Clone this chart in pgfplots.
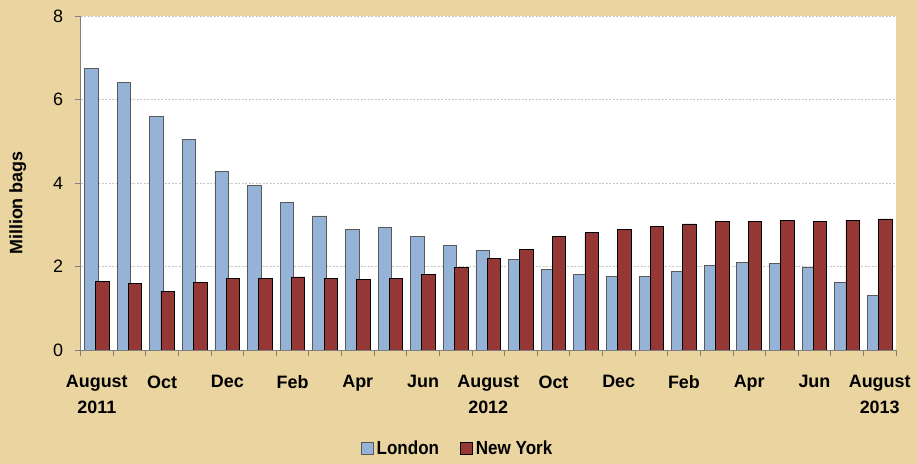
\documentclass[border=0pt]{standalone}
\usepackage{fontspec}
\setmainfont{Liberation Sans}
\newfontfamily\condfont[FakeStretch=0.9]{Liberation Sans}
\usepackage{pgfplots}
\usepackage{pgfplotstable}
\pgfplotsset{compat=1.18}
\definecolor{bg}{RGB}{234,213,160}
\definecolor{lon}{RGB}{149,179,215}
\definecolor{ny}{RGB}{149,55,53}

\pgfplotstableread{
i lon ny
0 6.75 1.64
1 6.41 1.59
2 5.60 1.41
3 5.04 1.61
4 4.28 1.71
5 3.95 1.71
6 3.53 1.75
7 3.21 1.72
8 2.89 1.69
9 2.94 1.72
10 2.72 1.81
11 2.51 1.97
12 2.38 2.20
13 2.16 2.41
14 1.93 2.71
15 1.80 2.81
16 1.76 2.89
17 1.76 2.95
18 1.88 3.02
19 2.03 3.08
20 2.09 3.08
21 2.07 3.10
22 1.98 3.08
23 1.62 3.10
24 1.30 3.14
}\data

\begin{document}
\begin{tikzpicture}
\path[use as bounding box, fill=bg] (0bp,0bp) rectangle (917bp,464bp);
\begin{axis}[
  at={(80.5bp,114bp)}, anchor=south west,
  width=815.5bp, height=334bp, scale only axis,
  xmin=-0.5, xmax=24.5, ymin=0, ymax=8,
  axis background/.style={fill=white},
  axis x line*=bottom, axis y line*=left,
  axis line style={gray, line width=0.8bp},
  every outer x axis line/.append style={-}, every outer y axis line/.append style={-},
  tick align=outside,
  ytick={0,2,4,6,8},
  major tick length=5bp,
  minor tick length=6bp,
  tick style={gray, line width=0.8bp},
  xtick={0,2,...,24},
  major x tick style={draw=none},
  minor xtick={-0.5,0.5,...,24.5},
  xticklabels={{August\\2011},Oct,Dec,Feb,Apr,Jun,{August\\2012},Oct,Dec,Feb,Apr,Jun,{August\\2013}},
  xticklabel style={align=center, font=\bfseries\fontsize{18}{25.5}\selectfont, yshift=-17bp},
  yticklabel style={font=\fontsize{18}{20}\selectfont, xshift=-9bp},
  /pgf/number format/assume math mode=true,
  ymajorgrids,
  grid style={dash pattern=on 2bp off 1.5bp, gray!45, line width=0.6bp},
  ylabel={Million bags},
  ylabel style={font=\bfseries\fontsize{18}{20}\selectfont, at={(axis description cs:-0.077,0.44)}, anchor=center},
  legend style={at={(axis description cs:0.463,-0.296)}, anchor=center, draw=none, fill=none,
    legend columns=2, font=\condfont\bfseries\fontsize{19}{21}\selectfont,
    /tikz/every even column/.append style={column sep=18bp},
    /tikz/every node/.append style={inner xsep=3bp}},
  legend image code/.code={\draw[#1] (0bp,-6bp) rectangle (12bp,6bp);},
]
\addplot[ybar, bar width=13.5bp, bar shift=-5.6bp, fill=lon, draw=black!65, line width=0.8bp] table[x=i,y=lon]{\data};
\addplot[ybar, bar width=13.5bp, bar shift=5.6bp, fill=ny, draw=black, line width=0.8bp] table[x=i,y=ny]{\data};
\legend{London, New York}
\end{axis}
\end{tikzpicture}
\end{document}
